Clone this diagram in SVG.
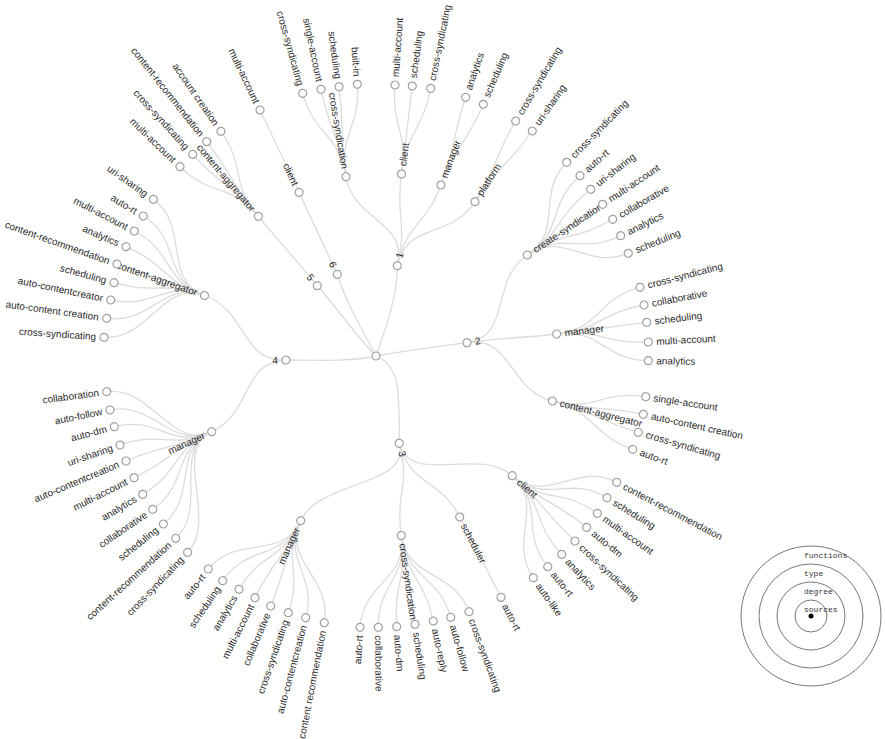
<svg xmlns="http://www.w3.org/2000/svg" width="885" height="739" viewBox="0 0 885 739">
<style>
.link{fill:none;stroke:#dcdcdc;stroke-width:1.3}
.node circle{fill:#fff;stroke:#a0a0a0;stroke-width:1.2}
.node text{font-family:"Liberation Sans",Arial,sans-serif;font-size:10px;fill:#2a2a2a}
.l text{text-anchor:end}
.legend circle{fill:none;stroke:#777;stroke-width:1}
.legend text{font-family:"Liberation Mono","DejaVu Sans Mono",monospace;font-size:8px;fill:#333}
</style>
<rect width="885" height="739" fill="#fff"/>
<g id="links">
<path class="link" d="M376,356C384,333 397,300 397.3,265.7"/>
<path class="link" d="M376,356C400,352 440,346 467,342.7"/>
<path class="link" d="M376,356C400,366 399.5,390 399.3,443.3"/>
<path class="link" d="M376,356C350,362 310,360 286,360"/>
<path class="link" d="M376,356C355,335 335,305 317.3,285.7"/>
<path class="link" d="M376,356C362,330 345,300 337.3,274.3"/>
<path class="link" d="M286,360C241,362 247.4,310.6 204.5,295.5"/>
<path class="link" d="M286,360C241,362 252.8,412.8 211.7,431.7"/>
<path class="link" d="M317.3,285.7C288,250.5 287.7,251.2 258.3,216.3"/>
<path class="link" d="M337.3,274.3C318,233.5 318.25,233.2 299,192.3"/>
<path class="link" d="M397.3,265.7C408,220.5 353.5,221.5 346,176.7"/>
<path class="link" d="M397.3,265.7C408,220.5 395.1,219.5 401.5,174"/>
<path class="link" d="M397.3,265.7C408,220.5 424.75,227.75 441,185"/>
<path class="link" d="M397.3,265.7C408,220.5 450.25,240.3 475,201.7"/>
<path class="link" d="M467,342.7C512.5,336 489.5,280.25 527.3,255"/>
<path class="link" d="M467,342.7C512.5,336 511.5,339.5 556.7,334"/>
<path class="link" d="M467,342.7C512.5,336 508.2,389.75 552.3,401"/>
<path class="link" d="M399.3,443.3C411,487 478.2,445.8 512.3,475.7"/>
<path class="link" d="M399.3,443.3C411,487 438.8,476.75 459.7,517"/>
<path class="link" d="M399.3,443.3C411,487 395,490.6 401.3,535.5"/>
<path class="link" d="M399.3,443.3C411,487 319.5,479.5 300.7,520.7"/>
<path class="link" d="M204.5,295.5C162.1,280.5 149,340.4 104,337.3"/>
<path class="link" d="M204.5,295.5C162.1,280.5 151.2,324.5 106.7,318.3"/>
<path class="link" d="M204.5,295.5C162.1,280.5 154.6,309.3 110.7,300"/>
<path class="link" d="M204.5,295.5C162.1,280.5 157.3,294.8 114,282.7"/>
<path class="link" d="M204.5,295.5C162.1,280.5 159.8,279.2 117,264"/>
<path class="link" d="M204.5,295.5C162.1,280.5 167.3,264.8 126,246.7"/>
<path class="link" d="M204.5,295.5C162.1,280.5 174.3,251.7 134.3,231"/>
<path class="link" d="M204.5,295.5C162.1,280.5 181.8,239.2 143.3,216"/>
<path class="link" d="M204.5,295.5C162.1,280.5 190.1,225.2 153.3,199.3"/>
<path class="link" d="M258.3,216.3C229.2,181.8 212.4,198 180,166.7"/>
<path class="link" d="M258.3,216.3C229.2,181.8 223,187.7 192.7,154.3"/>
<path class="link" d="M258.3,216.3C229.2,181.8 234.7,177.1 206.7,141.7"/>
<path class="link" d="M258.3,216.3C229.2,181.8 246.6,168.5 221,131.3"/>
<path class="link" d="M299,192.3C280,151.8 279.2,150.7 260,110"/>
<path class="link" d="M346,176.7C338.6,132.4 314.8,136.8 302.7,93.3"/>
<path class="link" d="M346,176.7C338.6,132.4 330.1,133.4 321,89.3"/>
<path class="link" d="M346,176.7C338.6,132.4 345.1,131.2 339,86.7"/>
<path class="link" d="M346,176.7C338.6,132.4 360.4,129.2 357.3,84.3"/>
<path class="link" d="M401.5,174C407.8,129 391.9,129.8 395,85"/>
<path class="link" d="M401.5,174C407.8,129 406.3,130.7 412.3,86"/>
<path class="link" d="M401.5,174C407.8,129 421.7,132.6 430.7,88.3"/>
<path class="link" d="M441,185C457.1,142.7 450.9,140.1 465.7,97.3"/>
<path class="link" d="M441,185C457.1,142.7 465.6,145.9 483.3,104.3"/>
<path class="link" d="M475,201.7C499.5,163.5 492.6,159.9 515.7,121"/>
<path class="link" d="M475,201.7C499.5,163.5 506.4,168.2 532.3,131"/>
<path class="link" d="M527.3,255C564.7,230 535.2,194.3 566.7,162.3"/>
<path class="link" d="M527.3,255C564.7,230 546.3,205.5 580,175.7"/>
<path class="link" d="M527.3,255C564.7,230 555.2,216.9 590.7,189.3"/>
<path class="link" d="M527.3,255C564.7,230 565.2,229.4 602.7,204.3"/>
<path class="link" d="M527.3,255C564.7,230 573.5,241.9 612.7,219.3"/>
<path class="link" d="M527.3,255C564.7,230 580.2,255.6 620.7,235.7"/>
<path class="link" d="M527.3,255C564.7,230 586.6,270.3 628.3,253.3"/>
<path class="link" d="M556.7,334C601.4,328.6 596.3,298.7 640,287.3"/>
<path class="link" d="M556.7,334C601.4,328.6 599.7,313.4 644,305"/>
<path class="link" d="M556.7,334C601.4,328.6 601.9,327.9 646.7,322.3"/>
<path class="link" d="M556.7,334C601.4,328.6 603.3,344.3 648.3,342"/>
<path class="link" d="M556.7,334C601.4,328.6 603.3,359.9 648.3,360.7"/>
<path class="link" d="M552.3,401C595.9,412.1 601.1,390 645.7,396.7"/>
<path class="link" d="M552.3,401C595.9,412.1 599.1,404.7 643.3,414.3"/>
<path class="link" d="M552.3,401C595.9,412.1 594.9,419.7 638.3,432.3"/>
<path class="link" d="M552.3,401C595.9,412.1 590.2,433.9 632.7,449.3"/>
<path class="link" d="M512.3,475.7C546,505.3 576.9,461.4 616.7,482.3"/>
<path class="link" d="M512.3,475.7C546,505.3 568.8,474.3 607,497.7"/>
<path class="link" d="M512.3,475.7C546,505.3 560.7,487.3 597.3,513.3"/>
<path class="link" d="M512.3,475.7C546,505.3 551.9,499 586.7,527.3"/>
<path class="link" d="M512.3,475.7C546,505.3 542.1,510.4 575,541"/>
<path class="link" d="M512.3,475.7C546,505.3 531,521.5 561.7,554.3"/>
<path class="link" d="M512.3,475.7C546,505.3 519.3,531.9 547.7,566.7"/>
<path class="link" d="M512.3,475.7C546,505.3 507.3,541 533.3,577.7"/>
<path class="link" d="M459.7,517C480.4,556.8 480.3,557.4 501,597.3"/>
<path class="link" d="M401.3,535.5C407.6,579.9 453.6,569.4 469,611.7"/>
<path class="link" d="M401.3,535.5C407.6,579.9 438.3,574.1 450.7,617.3"/>
<path class="link" d="M401.3,535.5C407.6,579.9 423.8,577.2 433.3,621"/>
<path class="link" d="M401.3,535.5C407.6,579.9 408.5,579.9 415,624.3"/>
<path class="link" d="M401.3,535.5C407.6,579.9 393.3,581.9 396.7,626.7"/>
<path class="link" d="M401.3,535.5C407.6,579.9 377.9,582.4 378.3,627.3"/>
<path class="link" d="M401.3,535.5C407.6,579.9 362.6,582.4 360,627.3"/>
<path class="link" d="M300.7,520.7C282.1,561.4 332.9,578.6 324.3,622.7"/>
<path class="link" d="M300.7,520.7C282.1,561.4 317.3,574.4 305.7,617.7"/>
<path class="link" d="M300.7,520.7C282.1,561.4 302.8,570.2 288.3,612.7"/>
<path class="link" d="M300.7,520.7C282.1,561.4 288.1,564.7 270.7,606"/>
<path class="link" d="M300.7,520.7C282.1,561.4 275,557.7 255,597.7"/>
<path class="link" d="M300.7,520.7C282.1,561.4 261.7,550.7 239,589.3"/>
<path class="link" d="M300.7,520.7C282.1,561.4 248.1,543.5 222.7,580.7"/>
<path class="link" d="M300.7,520.7C282.1,561.4 236,533.8 208.3,569"/>
<path class="link" d="M211.7,431.7C171.1,450.4 218.8,519.9 187.6,552.4"/>
<path class="link" d="M211.7,431.7C171.1,450.4 208.8,508.1 175.7,538.3"/>
<path class="link" d="M211.7,431.7C171.1,450.4 198.5,496.2 163.3,524"/>
<path class="link" d="M211.7,431.7C171.1,450.4 189.6,483.9 152.7,509.3"/>
<path class="link" d="M211.7,431.7C171.1,450.4 181.3,471.4 142.7,494.3"/>
<path class="link" d="M211.7,431.7C171.1,450.4 174,457.6 134,477.7"/>
<path class="link" d="M211.7,431.7C171.1,450.4 167.3,443.6 126,461"/>
<path class="link" d="M211.7,431.7C171.1,450.4 162.3,430.3 120,445"/>
<path class="link" d="M211.7,431.7C171.1,450.4 157.6,415 114.3,426.7"/>
<path class="link" d="M211.7,431.7C171.1,450.4 154,401.1 110,410"/>
<path class="link" d="M211.7,431.7C171.1,450.4 151.2,385.8 106.7,391.7"/>
</g>
<g id="nodes">
<g id="root" class="node" transform="translate(376,356)"><circle r="4"/></g>
<g id="d1" class="node" transform="translate(397.3,265.7) rotate(-76.7)"><circle r="4"/><text x="8" dy=".33em">1</text></g>
<g id="d2" class="node" transform="translate(467,342.7) rotate(-8.3)"><circle r="4"/><text x="8" dy=".33em">2</text></g>
<g id="d3" class="node" transform="translate(399.3,443.3) rotate(75)"><circle r="4"/><text x="8" dy=".33em">3</text></g>
<g id="d4" class="node l" transform="translate(286,360) rotate(-2.5)"><circle r="4"/><text x="-8" dy=".33em">4</text></g>
<g id="d5" class="node l" transform="translate(317.3,285.7) rotate(50.1)"><circle r="4"/><text x="-8" dy=".33em">5</text></g>
<g id="d6" class="node l" transform="translate(337.3,274.3) rotate(64.6)"><circle r="4"/><text x="-8" dy=".33em">6</text></g>
<g id="t-ca-left" class="node l" transform="translate(204.5,295.5) rotate(19.4)"><circle r="4"/><text x="-8" dy=".33em">content-aggregator</text></g>
<g id="t-ca-upper" class="node l" transform="translate(258.3,216.3) rotate(49.9)"><circle r="4"/><text x="-8" dy=".33em">content-aggregator</text></g>
<g id="t-client-upper" class="node l" transform="translate(299,192.3) rotate(64.8)"><circle r="4"/><text x="-8" dy=".33em">client</text></g>
<g id="t-cs-upper" class="node l" transform="translate(346,176.7) rotate(80.5)"><circle r="4"/><text x="-8" dy=".33em">cross-syndication</text></g>
<g id="t-client-top" class="node" transform="translate(401.5,174) rotate(-82)"><circle r="4"/><text x="8" dy=".33em">client</text></g>
<g id="t-manager-top" class="node" transform="translate(441,185) rotate(-69.2)"><circle r="4"/><text x="8" dy=".33em">manager</text></g>
<g id="t-platform" class="node" transform="translate(475,201.7) rotate(-57.3)"><circle r="4"/><text x="8" dy=".33em">platform</text></g>
<g id="t-create-synd" class="node" transform="translate(527.3,255) rotate(-33.7)"><circle r="4"/><text x="8" dy=".33em">create-syndication</text></g>
<g id="t-manager-right" class="node" transform="translate(556.7,334) rotate(-6.9)"><circle r="4"/><text x="8" dy=".33em">manager</text></g>
<g id="t-ca-right" class="node" transform="translate(552.3,401) rotate(14.3)"><circle r="4"/><text x="8" dy=".33em">content-aggregator</text></g>
<g id="t-client-br" class="node" transform="translate(512.3,475.7) rotate(41.3)"><circle r="4"/><text x="8" dy=".33em">client</text></g>
<g id="t-scheduler" class="node" transform="translate(459.7,517) rotate(62.5)"><circle r="4"/><text x="8" dy=".33em">scheduler</text></g>
<g id="t-cs-bottom" class="node" transform="translate(401.3,535.5) rotate(81.9)"><circle r="4"/><text x="8" dy=".33em">cross-syndication</text></g>
<g id="t-manager-bottom" class="node l" transform="translate(300.7,520.7) rotate(-65.4)"><circle r="4"/><text x="-8" dy=".33em">manager</text></g>
<g id="t-manager-left" class="node l" transform="translate(211.7,431.7) rotate(-24.7)"><circle r="4"/><text x="-8" dy=".33em">manager</text></g>
<g id="f1-1" class="node l" transform="translate(104,337.3) rotate(3.9)"><circle r="4"/><text x="-8" dy=".33em">cross-syndicating</text></g>
<g id="f1-2" class="node l" transform="translate(106.7,318.3) rotate(8)"><circle r="4"/><text x="-8" dy=".33em">auto-content creation</text></g>
<g id="f1-3" class="node l" transform="translate(110.7,300) rotate(11.9)"><circle r="4"/><text x="-8" dy=".33em">auto-contentcreator</text></g>
<g id="f1-4" class="node l" transform="translate(114,282.7) rotate(15.6)"><circle r="4"/><text x="-8" dy=".33em">scheduling</text></g>
<g id="f1-5" class="node l" transform="translate(117,264) rotate(19.6)"><circle r="4"/><text x="-8" dy=".33em">content-recommendation</text></g>
<g id="f1-6" class="node l" transform="translate(126,246.7) rotate(23.6)"><circle r="4"/><text x="-8" dy=".33em">analytics</text></g>
<g id="f1-7" class="node l" transform="translate(134.3,231) rotate(27.35)"><circle r="4"/><text x="-8" dy=".33em">multi-account</text></g>
<g id="f1-8" class="node l" transform="translate(143.3,216) rotate(31)"><circle r="4"/><text x="-8" dy=".33em">auto-rt</text></g>
<g id="f1-9" class="node l" transform="translate(153.3,199.3) rotate(35.1)"><circle r="4"/><text x="-8" dy=".33em">uri-sharing</text></g>
<g id="f2-1" class="node l" transform="translate(180,166.7) rotate(44)"><circle r="4"/><text x="-8" dy=".33em">multi-account</text></g>
<g id="f2-2" class="node l" transform="translate(192.7,154.3) rotate(47.7)"><circle r="4"/><text x="-8" dy=".33em">cross-syndicating</text></g>
<g id="f2-3" class="node l" transform="translate(206.7,141.7) rotate(51.7)"><circle r="4"/><text x="-8" dy=".33em">content-recommendation</text></g>
<g id="f2-4" class="node l" transform="translate(221,131.3) rotate(55.4)"><circle r="4"/><text x="-8" dy=".33em">account creation</text></g>
<g id="f3-1" class="node l" transform="translate(260,110) rotate(64.75)"><circle r="4"/><text x="-8" dy=".33em">multi-account</text></g>
<g id="f4-1" class="node l" transform="translate(302.7,93.3) rotate(74.4)"><circle r="4"/><text x="-8" dy=".33em">cross-syndicating</text></g>
<g id="f4-2" class="node l" transform="translate(321,89.3) rotate(78.35)"><circle r="4"/><text x="-8" dy=".33em">single-account</text></g>
<g id="f4-3" class="node l" transform="translate(339,86.7) rotate(82.2)"><circle r="4"/><text x="-8" dy=".33em">scheduling</text></g>
<g id="f4-4" class="node l" transform="translate(357.3,84.3) rotate(86.1)"><circle r="4"/><text x="-8" dy=".33em">built-in</text></g>
<g id="f5-1" class="node" transform="translate(395,85) rotate(-86)"><circle r="4"/><text x="8" dy=".33em">multi-account</text></g>
<g id="f5-2" class="node" transform="translate(412.3,86) rotate(-82.3)"><circle r="4"/><text x="8" dy=".33em">scheduling</text></g>
<g id="f5-3" class="node" transform="translate(430.7,88.3) rotate(-78.45)"><circle r="4"/><text x="8" dy=".33em">cross-syndicating</text></g>
<g id="f6-1" class="node" transform="translate(465.7,97.3) rotate(-70.9)"><circle r="4"/><text x="8" dy=".33em">analytics</text></g>
<g id="f6-2" class="node" transform="translate(483.3,104.3) rotate(-66.9)"><circle r="4"/><text x="8" dy=".33em">scheduling</text></g>
<g id="f7-1" class="node" transform="translate(515.7,121) rotate(-59.3)"><circle r="4"/><text x="8" dy=".33em">cross-syndicating</text></g>
<g id="f7-2" class="node" transform="translate(532.3,131) rotate(-55.2)"><circle r="4"/><text x="8" dy=".33em">uri-sharing</text></g>
<g id="f8-1" class="node" transform="translate(566.7,162.3) rotate(-45.45)"><circle r="4"/><text x="8" dy=".33em">cross-syndicating</text></g>
<g id="f8-2" class="node" transform="translate(580,175.7) rotate(-41.5)"><circle r="4"/><text x="8" dy=".33em">auto-rt</text></g>
<g id="f8-3" class="node" transform="translate(590.7,189.3) rotate(-37.8)"><circle r="4"/><text x="8" dy=".33em">uri-sharing</text></g>
<g id="f8-4" class="node" transform="translate(602.7,204.3) rotate(-33.8)"><circle r="4"/><text x="8" dy=".33em">multi-account</text></g>
<g id="f8-5" class="node" transform="translate(612.7,219.3) rotate(-30)"><circle r="4"/><text x="8" dy=".33em">collaborative</text></g>
<g id="f8-6" class="node" transform="translate(620.7,235.7) rotate(-26.2)"><circle r="4"/><text x="8" dy=".33em">analytics</text></g>
<g id="f8-7" class="node" transform="translate(628.3,253.3) rotate(-22.15)"><circle r="4"/><text x="8" dy=".33em">scheduling</text></g>
<g id="f9-1" class="node" transform="translate(640,287.3) rotate(-14.6)"><circle r="4"/><text x="8" dy=".33em">cross-syndicating</text></g>
<g id="f9-2" class="node" transform="translate(644,305) rotate(-10.8)"><circle r="4"/><text x="8" dy=".33em">collaborative</text></g>
<g id="f9-3" class="node" transform="translate(646.7,322.3) rotate(-7.1)"><circle r="4"/><text x="8" dy=".33em">scheduling</text></g>
<g id="f9-4" class="node" transform="translate(648.3,342) rotate(-3)"><circle r="4"/><text x="8" dy=".33em">multi-account</text></g>
<g id="f9-5" class="node" transform="translate(648.3,360.7) rotate(1)"><circle r="4"/><text x="8" dy=".33em">analytics</text></g>
<g id="f10-1" class="node" transform="translate(645.7,396.7) rotate(8.6)"><circle r="4"/><text x="8" dy=".33em">single-account</text></g>
<g id="f10-2" class="node" transform="translate(643.3,414.3) rotate(12.3)"><circle r="4"/><text x="8" dy=".33em">auto-content creation</text></g>
<g id="f10-3" class="node" transform="translate(638.3,432.3) rotate(16.2)"><circle r="4"/><text x="8" dy=".33em">cross-syndicating</text></g>
<g id="f10-4" class="node" transform="translate(632.7,449.3) rotate(20)"><circle r="4"/><text x="8" dy=".33em">auto-rt</text></g>
<g id="f11-1" class="node" transform="translate(616.7,482.3) rotate(27.7)"><circle r="4"/><text x="8" dy=".33em">content-recommendation</text></g>
<g id="f11-2" class="node" transform="translate(607,497.7) rotate(31.5)"><circle r="4"/><text x="8" dy=".33em">scheduling</text></g>
<g id="f11-3" class="node" transform="translate(597.3,513.3) rotate(35.4)"><circle r="4"/><text x="8" dy=".33em">multi-account</text></g>
<g id="f11-4" class="node" transform="translate(586.7,527.3) rotate(39.1)"><circle r="4"/><text x="8" dy=".33em">auto-dm</text></g>
<g id="f11-5" class="node" transform="translate(575,541) rotate(42.9)"><circle r="4"/><text x="8" dy=".33em">cross-syndicating</text></g>
<g id="f11-6" class="node" transform="translate(561.7,554.3) rotate(46.9)"><circle r="4"/><text x="8" dy=".33em">analytics</text></g>
<g id="f11-7" class="node" transform="translate(547.7,566.7) rotate(50.8)"><circle r="4"/><text x="8" dy=".33em">auto-rt</text></g>
<g id="f11-8" class="node" transform="translate(533.3,577.7) rotate(54.6)"><circle r="4"/><text x="8" dy=".33em">auto-like</text></g>
<g id="f12-1" class="node" transform="translate(501,597.3) rotate(62.6)"><circle r="4"/><text x="8" dy=".33em">auto-rt</text></g>
<g id="f13-1" class="node" transform="translate(469,611.7) rotate(70)"><circle r="4"/><text x="8" dy=".33em">cross-syndicating</text></g>
<g id="f13-2" class="node" transform="translate(450.7,617.3) rotate(74.05)"><circle r="4"/><text x="8" dy=".33em">auto-follow</text></g>
<g id="f13-3" class="node" transform="translate(433.3,621) rotate(77.8)"><circle r="4"/><text x="8" dy=".33em">auto-reply</text></g>
<g id="f13-4" class="node" transform="translate(415,624.3) rotate(81.7)"><circle r="4"/><text x="8" dy=".33em">scheduling</text></g>
<g id="f13-5" class="node" transform="translate(396.7,626.7) rotate(85.6)"><circle r="4"/><text x="8" dy=".33em">auto-dm</text></g>
<g id="f13-6" class="node" transform="translate(378.3,627.3) rotate(89.5)"><circle r="4"/><text x="8" dy=".33em">collaborative</text></g>
<g id="f13-7" class="node l" transform="translate(360,627.3) rotate(-86.6)"><circle r="4"/><text x="-8" dy=".33em">auto-rt</text></g>
<g id="f14-1" class="node l" transform="translate(324.3,622.7) rotate(-79)"><circle r="4"/><text x="-8" dy=".33em">content recommendation</text></g>
<g id="f14-2" class="node l" transform="translate(305.7,617.7) rotate(-75)"><circle r="4"/><text x="-8" dy=".33em">auto-contentcreation</text></g>
<g id="f14-3" class="node l" transform="translate(288.3,612.7) rotate(-71.1)"><circle r="4"/><text x="-8" dy=".33em">cross-syndicating</text></g>
<g id="f14-4" class="node l" transform="translate(270.7,606) rotate(-67.2)"><circle r="4"/><text x="-8" dy=".33em">collaborative</text></g>
<g id="f14-5" class="node l" transform="translate(255,597.7) rotate(-63.4)"><circle r="4"/><text x="-8" dy=".33em">multi-account</text></g>
<g id="f14-6" class="node l" transform="translate(239,589.3) rotate(-59.6)"><circle r="4"/><text x="-8" dy=".33em">analytics</text></g>
<g id="f14-7" class="node l" transform="translate(222.7,580.7) rotate(-55.7)"><circle r="4"/><text x="-8" dy=".33em">scheduling</text></g>
<g id="f14-8" class="node l" transform="translate(208.3,569) rotate(-51.8)"><circle r="4"/><text x="-8" dy=".33em">auto-rt</text></g>
<g id="f15-1" class="node l" transform="translate(187.6,552.4) rotate(-46.2)"><circle r="4"/><text x="-8" dy=".33em">cross-syndicating</text></g>
<g id="f15-2" class="node l" transform="translate(175.7,538.3) rotate(-42.3)"><circle r="4"/><text x="-8" dy=".33em">content-recommendation</text></g>
<g id="f15-3" class="node l" transform="translate(163.3,524) rotate(-38.3)"><circle r="4"/><text x="-8" dy=".33em">scheduling</text></g>
<g id="f15-4" class="node l" transform="translate(152.7,509.3) rotate(-34.5)"><circle r="4"/><text x="-8" dy=".33em">collaborative</text></g>
<g id="f15-5" class="node l" transform="translate(142.7,494.3) rotate(-30.7)"><circle r="4"/><text x="-8" dy=".33em">analytics</text></g>
<g id="f15-6" class="node l" transform="translate(134,477.7) rotate(-26.7)"><circle r="4"/><text x="-8" dy=".33em">multi-account</text></g>
<g id="f15-7" class="node l" transform="translate(126,461) rotate(-22.8)"><circle r="4"/><text x="-8" dy=".33em">auto-contentcreation</text></g>
<g id="f15-8" class="node l" transform="translate(120,445) rotate(-19.2)"><circle r="4"/><text x="-8" dy=".33em">uri-sharing</text></g>
<g id="f15-9" class="node l" transform="translate(114.3,426.7) rotate(-15.1)"><circle r="4"/><text x="-8" dy=".33em">auto-dm</text></g>
<g id="f15-10" class="node l" transform="translate(110,410) rotate(-11.5)"><circle r="4"/><text x="-8" dy=".33em">auto-follow</text></g>
<g id="f15-11" class="node l" transform="translate(106.7,391.7) rotate(-7.55)"><circle r="4"/><text x="-8" dy=".33em">collaboration</text></g>
</g>
<g id="legend" class="legend">
<circle cx="811" cy="616" r="70"/>
<circle cx="811" cy="616" r="52"/>
<circle cx="811" cy="616" r="34"/>
<circle cx="811" cy="616" r="16"/>
<circle cx="811" cy="616" r="2.5" style="fill:#000;stroke:none"/>
<text x="804" y="558">functions</text>
<text x="804" y="576">type</text>
<text x="804" y="594">degree</text>
<text x="804" y="612">sources</text>
</g>
</svg>
